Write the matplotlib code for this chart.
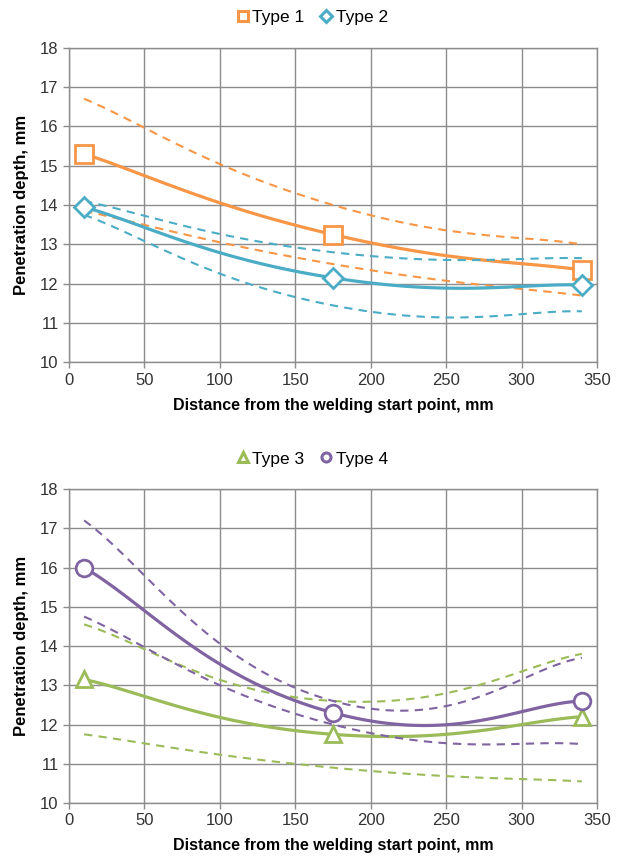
import numpy as np
import matplotlib
matplotlib.use('Agg')
import matplotlib.pyplot as plt

plt.rcParams['font.family'] = ['Liberation Sans', 'DejaVu Sans']

# data
x = [10, 175, 340]

type1 = [15.3, 13.25, 12.35]
type1_hi = [16.7, 14.0, 13.0]
type1_lo = [13.85, 12.5, 11.7]

type2 = [13.95, 12.15, 11.97]
type2_hi = [14.1, 12.8, 12.65]
type2_lo = [13.75, 11.45, 11.3]

type3 = [13.15, 11.75, 12.2]
type3_hi = [14.55, 12.6, 13.8]
type3_lo = [11.75, 10.9, 10.55]

type4 = [16.0, 12.3, 12.6]
type4_hi = [17.2, 12.6, 13.7]
type4_lo = [14.75, 12.0, 11.5]

ORANGE = '#F79646'
BLUE = '#4BACC6'
GREEN = '#9BBB59'
PURPLE = '#8064A2'


def smooth(xs, ys, k=0.25, n=60):
    # Excel-like smoothed line (cubic Bezier through the points)
    px = np.array(xs, float)
    py = np.array(ys, float)
    m = len(px)
    out_x, out_y = [], []
    t = np.linspace(0, 1, n)
    for i in range(m - 1):
        p0 = np.array([px[max(i - 1, 0)], py[max(i - 1, 0)]])
        p1 = np.array([px[i], py[i]])
        p2 = np.array([px[i + 1], py[i + 1]])
        p3 = np.array([px[min(i + 2, m - 1)], py[min(i + 2, m - 1)]])
        c1 = p1 + (p2 - p0) * k
        c2 = p2 - (p3 - p1) * k
        b = ((1 - t) ** 3)[:, None] * p1 + (3 * (1 - t) ** 2 * t)[:, None] * c1 \
            + (3 * (1 - t) * t ** 2)[:, None] * c2 + (t ** 3)[:, None] * p2
        out_x.extend(b[:, 0])
        out_y.extend(b[:, 1])
    return out_x, out_y


def style_axes(ax):
    ax.set_xlim(0, 350)
    ax.set_ylim(10, 18)
    ax.set_xticks(range(0, 351, 50))
    ax.set_yticks(range(10, 19))
    ax.grid(True, color='#8c8c8c', linewidth=1.0)
    ax.set_axisbelow(True)
    for s in ax.spines.values():
        s.set_color('#8c8c8c')
        s.set_linewidth(1.0)
    ax.tick_params(colors='#8c8c8c', labelcolor='#333333', labelsize=12,
                   length=4, width=1, direction='out')
    ax.set_xlabel('Distance from the welding start point, mm', fontsize=11.5,
                  fontweight='bold', labelpad=7)
    ax.set_ylabel('Penetration depth, mm', fontsize=12, fontweight='bold', labelpad=8)


def draw(ax, mean, hi, lo, color, marker, ms, label):
    for band in (hi, lo):
        bx, by = smooth(x, band)
        ax.plot(bx, by, color=color, linewidth=1.5, linestyle=(0, (4, 3)))
    sx, sy = smooth(x, mean)
    ax.plot(sx, sy, color=color, linewidth=2.3)
    ax.plot(x, mean, linestyle='none', marker=marker, markersize=ms,
            markerfacecolor='white', markeredgecolor=color, markeredgewidth=2,
            clip_on=False)
    # legend handle
    h, = ax.plot([], [], linestyle='none', marker=marker, markersize=6.5,
                 markerfacecolor='white', markeredgecolor=color,
                 markeredgewidth=2.2, label=label)
    return h


fig = plt.figure(figsize=(6.21, 8.59), dpi=100)

ax1 = fig.add_axes([0.1111, 0.578, 0.8502, 0.3667])
h1 = draw(ax1, type1, type1_hi, type1_lo, ORANGE, 's', 12.5, 'Type 1')
h2 = draw(ax1, type2, type2_hi, type2_lo, BLUE, 'D', 10, 'Type 2')
style_axes(ax1)
fig.legend(handles=[h1, h2], loc='center', bbox_to_anchor=(0.5, 1 - 17 / 859),
           ncol=2, frameon=False, fontsize=12.5, handletextpad=0.0,
           columnspacing=0.7, handlelength=1.1)

ax2 = fig.add_axes([0.1111, 0.0652, 0.8502, 0.3655])
h3 = draw(ax2, type3, type3_hi, type3_lo, GREEN, '^', 12, 'Type 3')
h4 = draw(ax2, type4, type4_hi, type4_lo, PURPLE, 'o', 12, 'Type 4')
style_axes(ax2)
fig.legend(handles=[h3, h4], loc='center', bbox_to_anchor=(0.5, 1 - 459 / 859),
           ncol=2, frameon=False, fontsize=12.5, handletextpad=0.0,
           columnspacing=0.7, handlelength=1.1)

fig.savefig('out.png', dpi=100)
